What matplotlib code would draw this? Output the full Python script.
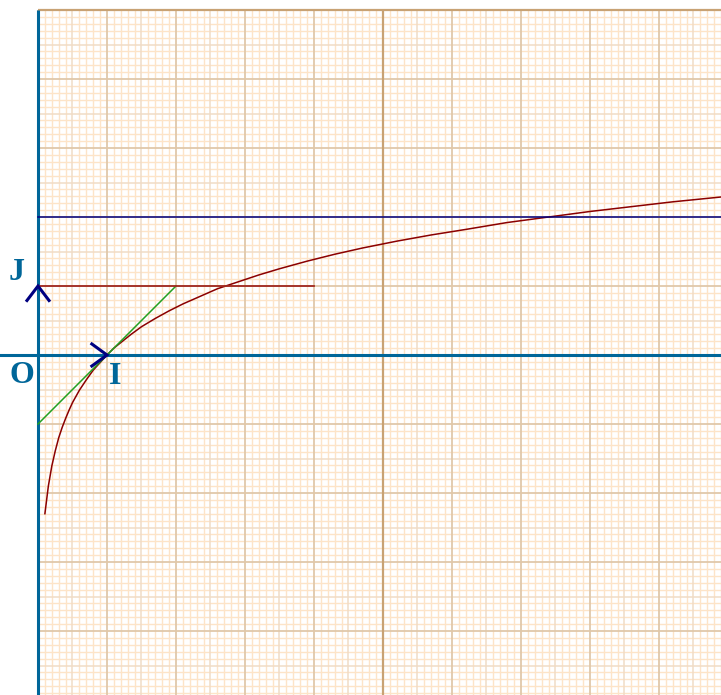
import numpy as np
import matplotlib.pyplot as plt

curve_x = [0.1, 0.15, 0.2, 0.25, 0.3, 0.35, 0.4, 0.45, 0.5, 0.6, 0.7, 0.8, 0.9,
           1.0, 1.1, 1.2, 1.35, 1.5, 1.7, 1.9, 2.1, 2.35, 2.6, 2.9, 3.2, 3.5,
           3.9, 4.3, 4.7, 5.2, 5.7, 6.2, 6.8, 7.4, 8.0, 8.6, 9.2, 9.9]
curve_y = [-2.30, -1.90, -1.61, -1.39, -1.20, -1.05, -0.92, -0.80, -0.69,
           -0.51, -0.36, -0.22, -0.11, 0.0, 0.10, 0.18, 0.30, 0.41, 0.53, 0.64,
           0.74, 0.85, 0.96, 1.06, 1.16, 1.25, 1.36, 1.46, 1.55, 1.65, 1.74,
           1.82, 1.92, 2.00, 2.08, 2.15, 2.22, 2.29]

tangent_x = [0.0, 2.0]
tangent_y = [-1.0, 1.0]

level_one_x = [0.0, 4.0]
level_one_y = 1.0
level_two_y = 2.0

labels = {"O": (-0.24, -0.3), "I": (1.12, -0.31), "J": (-0.31, 1.2)}

x_min, x_max = -38 / 69, 683 / 69
y_min, y_max = -340 / 69, 355 / 69
grid_top = 5.0

fig = plt.figure(figsize=(7.21, 6.95), dpi=100)
ax = fig.add_axes([0, 0, 1, 1])
ax.set_xlim(x_min, x_max)
ax.set_ylim(y_min, y_max)
ax.axis("off")


def grid_style(v):
    if abs(v - round(v)) < 1e-6:
        if round(v) == 5:
            return "#c8a274", 1.6, 4
        return "#e0c8aa", 1.3, 3
    if abs(v * 2 - round(v * 2)) < 1e-6:
        return "#f0dcc6", 1.1, 2
    return "#fde4c8", 1.0, 1


# millimetre paper
for v in np.round(np.arange(0, 10.0, 0.1), 2):
    col, lw, z = grid_style(v)
    ax.vlines(v, y_min, grid_top, colors=col, lw=lw, zorder=z)

for v in np.round(np.arange(-4.9, 5.05, 0.1), 2):
    col, lw, z = grid_style(v)
    ax.hlines(v, 0, x_max, colors=col, lw=lw, zorder=z)

# axes
ax.axhline(0, color="#006699", lw=2.2, zorder=5)
ax.vlines(0, y_min, grid_top, colors="#006699", lw=2.2, zorder=5)

# curves
ax.plot(curve_x, curve_y, color="#8b0000", lw=1.1, zorder=6)
ax.plot(tangent_x, tangent_y, color="#22a022", lw=1.1, zorder=6)
ax.plot(level_one_x, [level_one_y] * 2, color="#a02820", lw=1.3, zorder=6)
ax.plot([0, x_max], [level_two_y] * 2, color="#000080", lw=1.1, zorder=6)

# unit arrows
ax.plot([0.78, 1.0, 0.78], [0.16, 0.0, -0.16], color="#000080", lw=2.2,
        solid_joinstyle="miter", zorder=7)
ax.plot([-0.16, 0.0, 0.16], [0.79, 1.0, 0.79], color="#000080", lw=2.2,
        solid_joinstyle="miter", zorder=7)

for txt, (lx, ly) in labels.items():
    ax.text(lx, ly, txt, color="#006699", fontsize=23, family="Liberation Serif",
            fontweight="bold", ha="center", va="center", zorder=8)

fig.savefig("out.png", dpi=100)
